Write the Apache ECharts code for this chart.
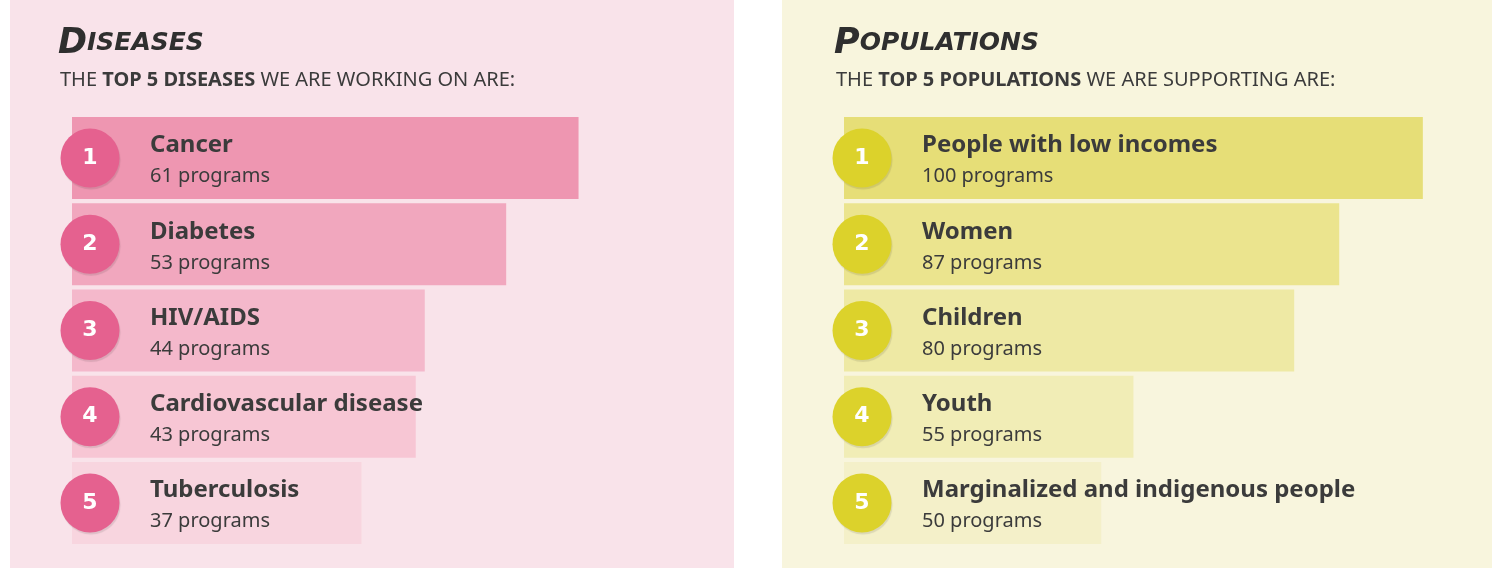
<!DOCTYPE html>
<html>
<head>
<meta charset="utf-8">
<script src="https://cdn.jsdelivr.net/npm/echarts@6/dist/echarts.min.js"></script>
<style>
  html, body { margin: 0; padding: 0; background: #ffffff; }
  #chart { width: 1492px; height: 568px; }
</style>
</head>
<body>
<div id="chart"></div>
<script>
// 疾病 top 5
var diseaseNames = ['Cancer', 'Diabetes', 'HIV/AIDS', 'Cardiovascular disease', 'Tuberculosis']
var diseasePrograms = [61, 53, 44, 43, 37]
// 人群 top 5
var populationNames = ['People with low incomes', 'Women', 'Children', 'Youth', 'Marginalized and indigenous people']
var populationPrograms = [100, 87, 80, 55, 50]
// 排名
var ranks = ['1', '2', '3', '4', '5']

var diseaseColors = ['#ee96b1', '#f1a7be', '#f4b8cb', '#f7c6d4', '#f8d5df']
var populationColors = ['#e6de77', '#ebe48e', '#eee9a4', '#f1edb6', '#f4f0c9']

var textColor = '#3b3b3b'
var fontFamily = '"Noto Sans", "Open Sans", sans-serif'

// 两个面板的轴范围
var panels = [
  { left: 72, width: 597, min: 5, max: 71, badge: '#e5618f', colors: diseaseColors, names: diseaseNames, values: diseasePrograms },
  { left: 844, width: 611, min: 10, max: 105, badge: '#dcd22b', colors: populationColors, names: populationNames, values: populationPrograms }
]

var chart = echarts.init(document.getElementById('chart'), null, { renderer: 'canvas' })

function titleText (word) {
  return '{big|' + word.charAt(0).toUpperCase() + '}{small|' + word.slice(1).toUpperCase() + '}'
}

var titleRich = {
  big: { fontFamily: '"DejaVu Sans", sans-serif', fontWeight: 'bold', fontStyle: 'italic', fontSize: 35, color: '#2f2f2f' },
  small: { fontFamily: '"DejaVu Sans", sans-serif', fontWeight: 'bold', fontStyle: 'italic', fontSize: 25, color: '#2f2f2f' }
}
var subRich = {
  n: { fontFamily: fontFamily, fontSize: 20, fontWeight: 'normal', color: textColor },
  b: { fontFamily: fontFamily, fontSize: 20, fontWeight: 'bold', color: textColor }
}

var grids = []
var xAxes = []
var yAxes = []
var series = []

panels.forEach(function (p, i) {
  grids.push({ left: p.left, width: p.width, top: 115, height: 431 })
  xAxes.push({ type: 'value', gridIndex: i, min: p.min, max: p.max, show: false })
  yAxes.push({ type: 'category', gridIndex: i, inverse: true, data: p.names, show: false })
  series.push({
    type: 'bar',
    xAxisIndex: i,
    yAxisIndex: i,
    barWidth: 82,
    silent: true,
    data: p.values.map(function (v, k) {
      return { value: v, itemStyle: { color: p.colors[k] } }
    }),
    label: {
      show: true,
      position: 'insideLeft',
      distance: 78,
      offset: [0, 3],
      formatter: function (params) {
        return '{name|' + params.name + '}\n{val|' + params.value + ' programs}'
      },
      rich: {
        name: { fontFamily: fontFamily, fontSize: 24, fontWeight: 'bold', color: textColor, lineHeight: 31 },
        val: { fontFamily: fontFamily, fontSize: 20, fontWeight: 'normal', color: textColor, lineHeight: 31 }
      }
    }
  })
  // 排名圆圈
  var badgeX = p.min + 18 * (p.max - p.min) / p.width
  series.push({
    type: 'scatter',
    xAxisIndex: i,
    yAxisIndex: i,
    symbol: 'circle',
    symbolSize: 59,
    silent: true,
    clip: false,
    itemStyle: {
      color: p.badge,
      opacity: 1,
      shadowColor: 'rgba(0,0,0,0.10)',
      shadowBlur: 1,
      shadowOffsetX: 1,
      shadowOffsetY: 2
    },
    data: ranks.map(function (r, k) { return [badgeX, k] }),
    label: {
      show: true,
      position: 'inside',
      formatter: function (params) { return ranks[params.dataIndex] },
      fontFamily: '"DejaVu Sans", sans-serif',
      fontWeight: 'bold',
      fontSize: 22,
      color: '#ffffff'
    }
  })
})

var option = {
  animation: false,
  backgroundColor: '#ffffff',
  graphic: [
    { type: 'rect', z: -10, shape: { x: 10, y: 0, width: 724, height: 568 }, style: { fill: '#f9e3ea' } },
    { type: 'rect', z: -10, shape: { x: 782, y: 0, width: 710, height: 568 }, style: { fill: '#f8f5dd' } }
  ],
  title: [
    {
      text: titleText('Diseases'),
      left: 58, top: 26, padding: 0,
      textStyle: { rich: titleRich }
    },
    {
      text: '{n|THE }{b|TOP 5 DISEASES}{n| WE ARE WORKING ON ARE:}',
      left: 60, top: 70, padding: 0,
      textStyle: { rich: subRich }
    },
    {
      text: titleText('Populations'),
      left: 834, top: 26, padding: 0,
      textStyle: { rich: titleRich }
    },
    {
      text: '{n|THE }{b|TOP 5 POPULATIONS}{n| WE ARE SUPPORTING ARE:}',
      left: 836, top: 70, padding: 0,
      textStyle: { rich: subRich }
    }
  ],
  grid: grids,
  xAxis: xAxes,
  yAxis: yAxes,
  series: series
}

chart.setOption(option)
window.addEventListener('resize', function () {
  chart.resize()
})
</script>
</body>
</html>
